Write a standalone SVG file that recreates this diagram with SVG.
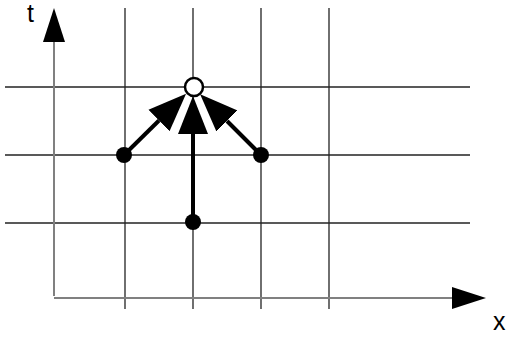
<svg xmlns="http://www.w3.org/2000/svg" width="510" height="337" viewBox="0 0 510 337">
<style>
.grid{stroke:#222;stroke-width:1.3;fill:none}
.axis{stroke:#808080;stroke-width:2;fill:none}
.arr{stroke:#000;stroke-width:4;fill:none}
.dot{fill:#000}
.lbl{font-family:"Liberation Sans",Arial,sans-serif;font-size:25px;fill:#000}
</style>
<defs>
<marker id="ah" markerUnits="userSpaceOnUse" markerWidth="42" markerHeight="34" viewBox="0 -17 42 34" refX="0" refY="0" orient="auto">
<path d="M0,-15 L38,0 L0,15 Z" fill="#000"/>
</marker>
<marker id="axh" markerUnits="userSpaceOnUse" markerWidth="36" markerHeight="26" viewBox="0 -13 36 26" refX="0" refY="0" orient="auto">
<path d="M0,-11 L34,0 L0,11 Z" fill="#000"/>
</marker>
</defs>
<g id="grid">
<line class="grid" x1="125" y1="8" x2="125" y2="309"/>
<line class="grid" x1="193" y1="8" x2="193" y2="309"/>
<line class="grid" x1="261" y1="8" x2="261" y2="309"/>
<line class="grid" x1="329" y1="8" x2="329" y2="309"/>
<line class="grid" x1="5" y1="87" x2="470" y2="87"/>
<line class="grid" x1="5" y1="155" x2="470" y2="155"/>
<line class="grid" x1="5" y1="223" x2="470" y2="223"/>
</g>
<g id="axes">
<line class="axis" x1="54" y1="296" x2="54" y2="42" marker-end="url(#axh)"/>
<line class="axis" x1="54" y1="298" x2="452" y2="298" marker-end="url(#axh)"/>
<text class="lbl" x="27" y="22">t</text>
<text class="lbl" x="493" y="330">x</text>
</g>
<g id="connectors">
<line class="arr" x1="193" y1="223" x2="193" y2="134" marker-end="url(#ah)"/>
<line class="arr" x1="124" y1="155" x2="159" y2="120.5" marker-end="url(#ah)"/>
<line class="arr" x1="261" y1="155" x2="227" y2="121" marker-end="url(#ah)"/>
</g>
<g id="node-left"><circle class="dot" cx="124" cy="155" r="8"/></g>
<g id="node-bottom"><circle class="dot" cx="193" cy="222" r="8"/></g>
<g id="node-right"><circle class="dot" cx="261" cy="155" r="8"/></g>
<g id="node-top"><circle cx="194" cy="87" r="9" fill="#fff" stroke="#000" stroke-width="2.5"/></g>
</svg>
